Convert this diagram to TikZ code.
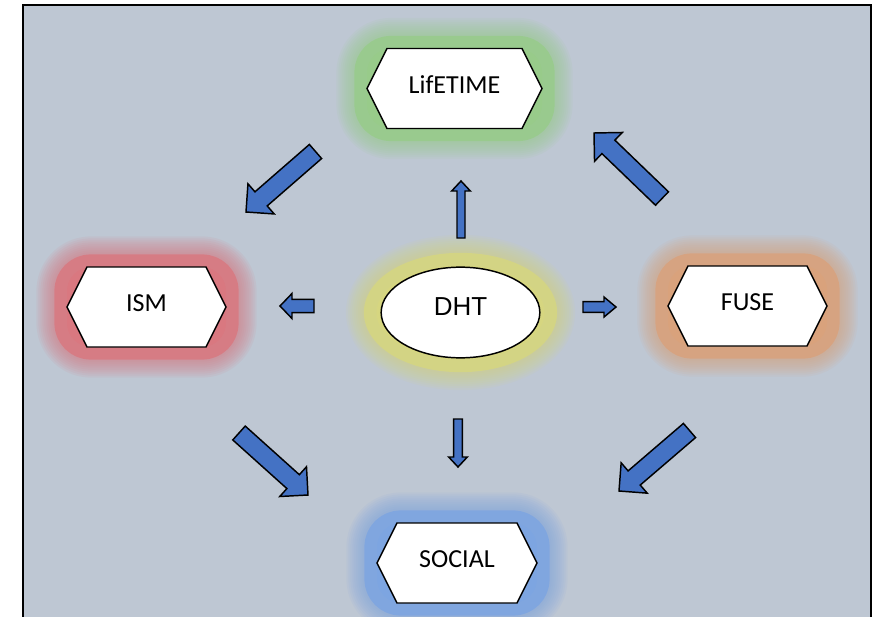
\documentclass[tikz,border=0pt]{standalone}
\usepackage{fontspec}
\setmainfont{Carlito}
\newfontfamily\dhtfont{Liberation Sans}
\usetikzlibrary{calc,shapes.geometric}

\definecolor{panelbg}{RGB}{190,199,211}
\definecolor{arrowblue}{RGB}{68,114,196}
\definecolor{glowgreen}{RGB}{152,203,138}
\definecolor{glowred}{RGB}{217,120,128}
\definecolor{gloworange}{RGB}{217,162,124}
\definecolor{glowyellow}{RGB}{214,214,128}
\definecolor{glowblue}{RGB}{125,165,225}

% soft halo: colour, path
\newcommand\halo[2]{%
  \foreach \w in {46,43,...,22}{\draw[#1,draw opacity=.09,line width=\w pt,line join=round] #2;}
  \draw[#1,fill=#1,draw opacity=.85,line width=19pt,line join=round] #2;
}
% block arrow: tail, tip, half shaft, half head, head length
\newcommand\blockarrow[5]{%
  \path ($(#2)!#5!(#1)$) coordinate (hb);
  \draw[blockarr] ($(#1)!#3!90:(#2)$) -- ($(hb)!#3!90:(#2)$) -- ($(hb)!#4!90:(#2)$) -- (#2)
    -- ($(hb)!#4!-90:(#2)$) -- ($(hb)!#3!-90:(#2)$) -- ($(#1)!#3!-90:(#2)$) -- cycle;
}
% hexagon box: name, x, y, half width, glow colour, text
\newcommand\hexbox[6]{%
  \halo{#5}{[rounded corners=18pt] ({#2-#4},{#3-40}) rectangle ({#2+#4},{#3+40})}
  \draw[hexshape] (#2,#3) ++(-#4,0) -- ++(20,-40) -- ++({2*#4-40},0) -- ++(20,40)
    -- ++(-20,40) -- ++({40-2*#4},0) -- cycle;
  \node[hexlabel] (#1) at (#2,{#3-4}) {#6};
}

\begin{document}
\begin{tikzpicture}[x=0.75pt,y=-0.75pt,
 hexshape/.style={draw=black,fill=white,line width=1.1pt},
 hexlabel/.style={inner sep=0pt,font=\fontsize{19.5}{23}\selectfont},
 hub/.style={ellipse,draw,fill=white,line width=1.1pt,minimum width=119pt,minimum height=68pt,
   text depth=9pt,font=\dhtfont\fontsize{19.5}{23}\selectfont},
 blockarr/.style={draw=black,fill=arrowblue,line width=1.1pt}]
\path[use as bounding box,clip] (0,0) rectangle (879,617);
\fill[panelbg] (23,5) rectangle (871,617);
\draw[line width=1.4pt] (23,617) -- (23,5) -- (871,5) -- (871,617);

\hexbox{life}{454.5}{88.5}{87.5}{glowgreen}{LifETIME}
\hexbox{ism}{146.5}{307}{79.5}{glowred}{ISM}
\hexbox{fuse}{747.5}{306}{79.5}{gloworange}{FUSE}
\hexbox{social}{457}{563}{80}{glowblue}{SOCIAL}
\halo{glowyellow}{(460.5,312.5) ellipse [x radius=84,y radius=47]}
\node[hub] (dht) at (460.5,312.5) {DHT};

% big arrows round the ring
\coordinate (li) at (315.5,151.5); \coordinate (li') at (246,212);
\coordinate (fl) at (662,198.5);   \coordinate (fl') at (594,133);
\coordinate (is) at (239,433);     \coordinate (is') at (308,495);
\coordinate (fs) at (689.5,430.5); \coordinate (fs') at (619,491);
\blockarrow{li}{li'}{7pt}{15pt}{15pt}
\blockarrow{fl}{fl'}{7pt}{15pt}{15pt}
\blockarrow{is}{is'}{7pt}{15pt}{15pt}
\blockarrow{fs}{fs'}{7pt}{15pt}{15pt}

% small arrows out of DHT
\coordinate (du) at (461,238); \coordinate (du') at (461,181);
\coordinate (dd) at (458,419); \coordinate (dd') at (458,467);
\coordinate (dl) at (314,306); \coordinate (dl') at (280,306);
\coordinate (dr) at (583,307); \coordinate (dr') at (616,307);
\blockarrow{du}{du'}{3pt}{7pt}{7.5pt}
\blockarrow{dd}{dd'}{3.3pt}{7pt}{7.5pt}
\blockarrow{dl}{dl'}{4.9pt}{9.4pt}{9pt}
\blockarrow{dr}{dr'}{4.1pt}{7.5pt}{9pt}
\end{tikzpicture}
\end{document}
